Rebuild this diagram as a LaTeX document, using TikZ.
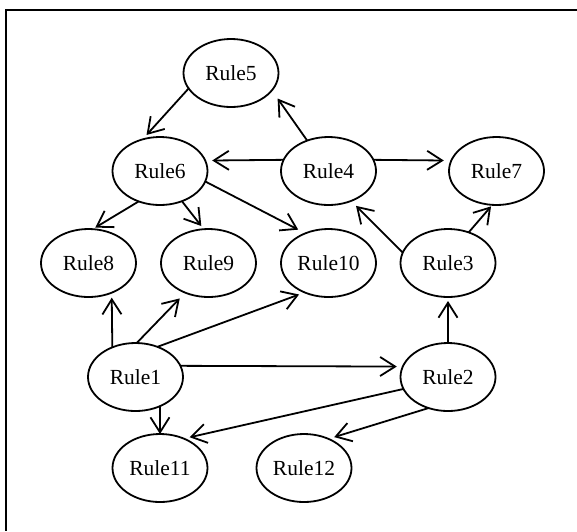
\documentclass[tikz,border=0pt]{standalone}
\usepackage{fontspec}
\setmainfont{Liberation Serif}
\usetikzlibrary{arrows.meta,shapes.geometric}
\tikzset{
  rule/.style={ellipse, draw, line width=1.8pt, inner sep=0pt, outer sep=0pt,
    minimum width=95pt, minimum height=68pt,
    font=\fontsize{21.5}{25}\selectfont},
  link/.style={line width=1.8pt, -{Straight Barb[length=15pt,width=19pt,line join=miter]}},
  frame/.style={line width=2pt}
}
\begin{document}
\begin{tikzpicture}[x=1pt,y=-1pt]
\useasboundingbox (0,0) rectangle (577,531);
\coordinate (ftl) at (5.7,10);
\coordinate (ftr) at (577,10);
\coordinate (fbl) at (5.7,531);
\draw[frame] (ftr) -- (ftl) -- (fbl);
\node[rule] (r5) at (231,73) {Rule5};
\node[rule] (r6) at (160,171) {Rule6};
\node[rule] (r4) at (328.5,171) {Rule4};
\node[rule] (r7) at (496.5,171) {Rule7};
\node[rule] (r8) at (88.5,263) {Rule8};
\node[rule] (r9) at (208.5,263) {Rule9};
\node[rule] (r10) at (328.5,263) {Rule10};
\node[rule] (r3) at (448,263) {Rule3};
\node[rule] (r1) at (135.5,377) {Rule1};
\node[rule] (r2) at (448,377) {Rule2};
\node[rule] (r11) at (160,468) {Rule11};
\node[rule] (r12) at (304,468) {Rule12};
\draw[link, shorten >=6pt] (r5.200) -- (r6.119);
\draw[link, shorten >=10pt] (r4.125) -- (r5.-23);
\draw[link, shorten >=7pt] (r4.166) -- (r6.13);
\draw[link, shorten >=7.5pt] (r4.14) -- (r7.167);
\draw[link, shorten >=3pt] (r6.-125) -- (r8.83);
\draw[link, shorten >=4pt] (r6.-54) -- (r9.98);
\draw[link, shorten >=8pt] (r6.-13) -- (r10.128);
\draw[link, shorten >=7pt] (r3.167) -- (r4.-53);
\draw[link, shorten >=2pt] (r3.56) -- (r7.-97);
\draw[link, shorten >=5pt] (r1.128) -- (r8.-52);
\draw[link, shorten >=8pt] (r1.88) -- (r9.232);
\draw[link, shorten >=6pt] (r1.54) -- (r10.231);
\draw[link, shorten >=6pt] (r1.14) -- (r2.167);
\draw[link, shorten >=4pt] (r2.north) -- (r3.south);
\draw[link] (r1.-50) -- (r11.north);
\draw[link, shorten >=6pt] (r2.195) -- (r11.51);
\draw[link, shorten >=6pt] (r2.238) -- (r12.50);
\end{tikzpicture}
\end{document}
